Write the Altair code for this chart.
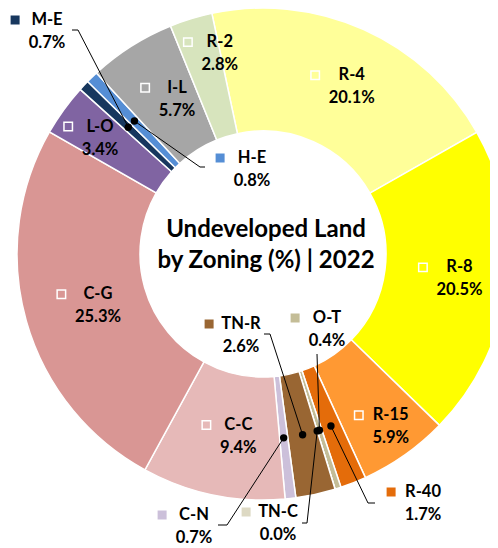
import math
import altair as alt
import pandas as pd

# ---------------- data ----------------
zones = ["R-4", "R-8", "R-15", "R-40", "O-T", "TN-C", "TN-R", "C-N",
         "C-C", "C-G", "L-O", "M-E", "H-E", "I-L", "R-2"]
shares = [20.1, 20.5, 5.9, 1.7, 0.4, 0.0, 2.6, 0.7,
          9.4, 25.3, 3.4, 0.7, 0.8, 5.7, 2.8]
colors = ["#FFFF99", "#FFFF00", "#FF9933", "#E46C0A", "#C4BD97", "#DDD9C3",
          "#996633", "#CCC0DA", "#E6B9B8", "#D99694", "#8064A2", "#17375E",
          "#558ED5", "#A6A6A6", "#D7E4BD"]
title_lines = ["Undeveloped Land", "by Zoning (%) | 2022"]

# ---------------- layout ----------------
W, H = 482, 540
CX, CY = 255, 246
R_OUT, R_IN = 246, 123
R_MID = 185
START_DEG = -12.0
FONT = "Lato"
FS = 16.5

# labels placed outside the ring (page-pixel centre of the name line)
outside_pos = {
    "M-E": (47, 20), "H-E": (252, 158), "TN-R": (241, 324), "O-T": (327, 318),
    "TN-C": (278, 512), "R-40": (423, 492), "C-N": (194, 515),
}
# nudges for inside labels that were moved off the slice centre
inside_nudge = {"R-15": (8, 20), "L-O": (-26, -9), "R-2": (-2, -25)}
# leader-line bends (page pixels); "DOT" marks the slice end
leaders = {
    "M-E": [(72, 30), (78, 30), "DOT"],
    "H-E": ["DOT", (200, 167), (205, 167)],
    "TN-R": [(264, 334), (270, 334), "DOT"],
    "O-T": [(317, 354), "DOT"],
    "TN-C": [(302, 523), (307, 523), "DOT"],
    "R-40": ["DOT", (368, 503), (375, 503)],
    "C-N": [(218, 525), (227, 525), "DOT"],
}


def pg(p):
    return (p[0] - 8, p[1] - 8)


def text_w(s):
    w = 0
    for ch in s:
        if ch.isdigit():
            w += 9.4
        elif ch == ".":
            w += 4
        elif ch == "%":
            w += 14
        elif ch == "-":
            w += 5.5
        elif ch == "I":
            w += 4.5
        else:
            w += 9.8
    return w


# ---------------- derived tables ----------------
df = pd.DataFrame({"zone": zones, "share": shares, "idx": range(len(zones))})
df["cum_end"] = df["share"].cumsum()
df["mid_deg"] = START_DEG + (df["cum_end"] - df["share"] / 2) * 3.6
df["pct"] = df["share"].map(lambda v: f"{v:.1f}%")

label_rows, key_in, key_out, dots, lines = [], [], [], [], []
for _, r in df.iterrows():
    a = math.radians(r["mid_deg"])
    dx, dy = CX + R_MID * math.sin(a), CY - R_MID * math.cos(a)
    z = r["zone"]
    boxw = max(text_w(z), text_w(r["pct"]))
    if z in outside_pos:
        tx, ny = pg(outside_pos[z])
        py = ny + 23
        key_out.append({"zone": z, "x": tx - boxw / 2 - 13.5, "y": ny})
        dots.append({"zone": z, "x": dx, "y": dy})
        for i, p in enumerate(leaders[z]):
            px_, py_ = (dx, dy) if p == "DOT" else pg(p)
            lines.append({"zone": z, "seq": i, "x": px_, "y": py_})
    else:
        nx, ny_ = inside_nudge.get(z, (0, 0))
        ax, ay = dx + nx, dy + ny_
        tx = ax + 13
        ny = ay - 10
        py = ay + 13
        key_in.append({"zone": z, "x": tx - boxw / 2 - 13.5, "y": ny})
    label_rows.append({"zone": z, "x": tx, "y": ny, "t": z})
    label_rows.append({"zone": z, "x": tx, "y": py, "t": r["pct"]})

labels = pd.DataFrame(label_rows)

xs = lambda f="x": alt.X(f"{f}:Q", scale=None, axis=None)
ys = lambda f="y": alt.Y(f"{f}:Q", scale=None, axis=None)
color_scale = alt.Scale(domain=zones, range=colors)

a0 = math.radians(START_DEG)
arcs = alt.Chart(df).mark_arc(
    outerRadius=R_OUT, innerRadius=R_IN, stroke="white", strokeWidth=1.5
).encode(
    theta=alt.Theta("share:Q", stack=True,
                    scale=alt.Scale(domain=[0, 100], range=[a0, a0 + 2 * math.pi])),
    color=alt.Color("zone:N", scale=color_scale, legend=None),
    order=alt.Order("idx:Q"),
    x=alt.value(CX), y=alt.value(CY),
)

lead = alt.Chart(pd.DataFrame(lines)).mark_line(
    color="black", strokeWidth=1
).encode(x=xs(), y=ys(), detail="zone:N", order="seq:Q")

dot = alt.Chart(pd.DataFrame(dots)).mark_circle(
    size=55, color="black", opacity=1
).encode(x=xs(), y=ys())

kin = alt.Chart(pd.DataFrame(key_in)).mark_square(
    size=72, filled=False, color="white", strokeWidth=1.5, opacity=1
).encode(x=xs(), y=ys())

kout = alt.Chart(pd.DataFrame(key_out)).mark_square(
    size=81, opacity=1
).encode(x=xs(), y=ys(), color=alt.Color("zone:N", scale=color_scale, legend=None))

txt = alt.Chart(labels).mark_text(
    font=FONT, fontWeight="bold", fontSize=FS, color="black",
    align="center", baseline="middle"
).encode(x=xs(), y=ys(), text="t:N")

title = alt.Chart(pd.DataFrame({"k": [0]})).mark_text(
    font=FONT, fontWeight="bold", fontSize=24, color="black",
    align="center", baseline="alphabetic", lineHeight=31, text=title_lines
).encode(x=alt.value(258), y=alt.value(229))

chart = alt.layer(arcs, lead, dot, kin, kout, txt, title).properties(
    width=W, height=H, padding=0,
    autosize=alt.AutoSizeParams(type="none"),
).configure_view(strokeWidth=0)

chart.save("out.html", embed_options={"renderer": "svg", "actions": False})
